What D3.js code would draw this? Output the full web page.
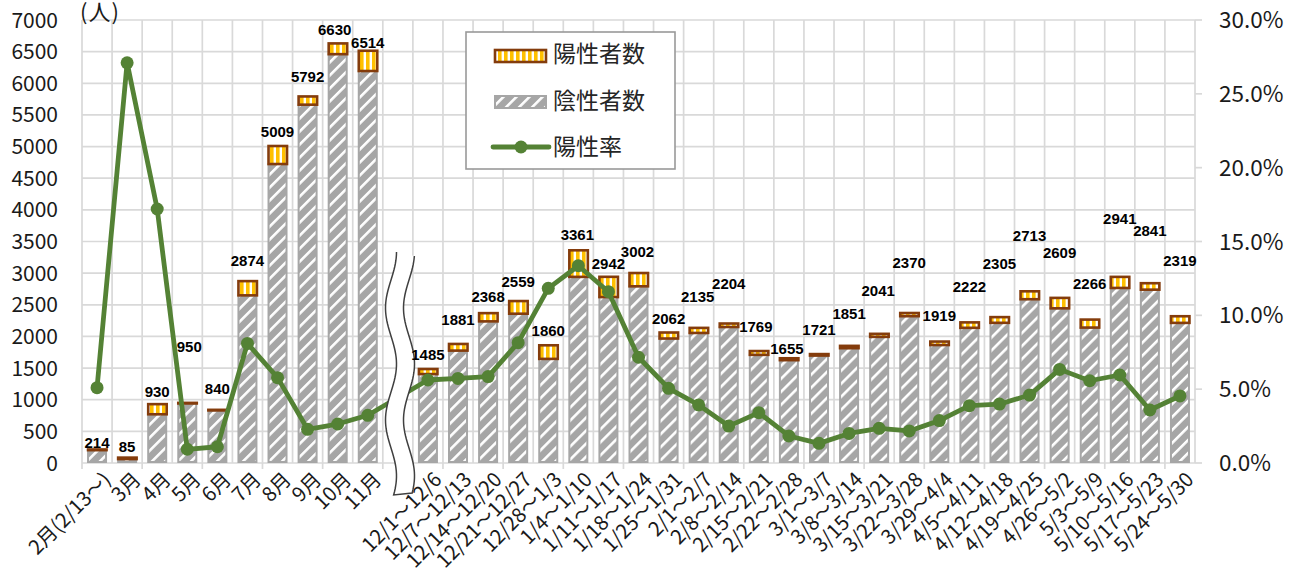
<!DOCTYPE html>
<html><head><meta charset="utf-8">
<script src="https://cdn.jsdelivr.net/npm/d3@7"></script>
<style>body{margin:0;background:#fff;overflow:hidden}</style>
</head><body><svg id="c" width="1300" height="568"></svg>
<script>
// ---------- data ----------
const categories = ["2月(2/13〜)","3月","4月","5月","6月","7月","8月","9月","10月","11月","",
  "12/1〜12/6","12/7〜12/13","12/14〜12/20","12/21〜12/27","12/28〜1/3","1/4〜1/10","1/11〜1/17","1/18〜1/24","1/25〜1/31",
  "2/1〜2/7","2/8〜2/14","2/15〜2/21","2/22〜2/28","3/1〜3/7","3/8〜3/14","3/15〜3/21","3/22〜3/28","3/29〜4/4",
  "4/5〜4/11","4/12〜4/18","4/19〜4/25","4/26〜5/2","5/3〜5/9","5/10〜5/16","5/17〜5/23","5/24〜5/30"];
const totals = [214,85,930,950,840,2874,5009,5792,6630,6514,null,
  1485,1881,2368,2559,1860,3361,2942,3002,2062,2135,2204,1769,1655,1721,1851,2041,2370,1919,2222,2305,2713,2609,2266,2941,2841,2319];
const positives = [11,23,160,9,9,225,285,130,170,320,null,
  80,105,130,200,215,420,320,210,95,80,55,60,30,23,37,48,50,55,86,90,125,165,126,175,102,105];
const negatives = [203,62,770,941,831,2649,4724,5662,6460,6194,null,
  1405,1776,2238,2359,1645,2941,2622,2792,1967,2055,2149,1709,1625,1698,1814,1993,2320,1864,2136,2215,2588,2444,2140,2766,2739,2214];
const positiveRate = [5.1,27.1,17.2,0.93,1.1,8.1,5.78,2.28,2.64,3.23,null,
  5.62,5.73,5.85,8.15,11.83,13.36,11.6,7.16,5.06,3.93,2.5,3.41,1.83,1.33,2.0,2.35,2.17,2.87,3.88,3.99,4.6,6.34,5.57,5.96,3.59,4.54];
const leftTicks = [0,500,1000,1500,2000,2500,3000,3500,4000,4500,5000,5500,6000,6500,7000];
const rightTicks = [0,5,10,15,20,25,30];
const seriesNames = ["陽性者数","陰性者数","陽性率"];
// manual label placement (distance above bar top, horizontal nudge), as in the original
const labelLift = [7,11,13,56,21,21,14,20,14,8,0,
  14,24,17,19,15,16,13,21,14,31,40,24,10,24,32,43,50,26,36,54,56,45,36,58,53,56];
const labelNudge = [0,0,0,2,0,0,0,0,-3,0,0,
  0,0,0,0,0,-1,0,-1,0,-1,0,-3,-2,0,0,-1,0,0,0,0,0,0,0,0,0,0];

// ---------- setup ----------
const svg = d3.select("#c");
const L = 82, R = 1195, T = 20, B = 463;
const x = d3.scaleBand().domain(d3.range(categories.length)).range([L, R]).padding(0);
const yL = d3.scaleLinear().domain([0, 7000]).range([B, T]);
const yR = d3.scaleLinear().domain([0, 30]).range([B, T]);
const cx = i => x(i) + x.bandwidth() / 2;
const gridC = "#d9d9d9", txtC = "#1a1a1a";
const green = "#548235", brown = "#843c0c", gold = "#ffc000", gray = "#a6a6a6";
const jp = "'Noto Sans CJK JP','Noto Sans',sans-serif";

const defs = svg.append("defs");
const hatch = defs.append("pattern").attr("id", "hatch").attr("patternUnits", "userSpaceOnUse")
  .attr("width", 9.2).attr("height", 9.2).attr("patternTransform", "rotate(45)");
hatch.append("rect").attr("width", 9.2).attr("height", 9.2).attr("fill", gray);
hatch.append("rect").attr("x", 0).attr("width", 2.6).attr("height", 9.2).attr("fill", "#fff");
const stripe = defs.append("pattern").attr("id", "stripe").attr("patternUnits", "userSpaceOnUse")
  .attr("width", 6).attr("height", 10);
stripe.append("rect").attr("width", 6).attr("height", 10).attr("fill", "#fff");
stripe.append("rect").attr("width", 3.6).attr("height", 10).attr("fill", gold);

// ---------- grid ----------
const g = svg.append("g");
g.selectAll("line.h").data(leftTicks).join("line")
  .attr("x1", L).attr("x2", R).attr("y1", d => yL(d)).attr("y2", d => yL(d))
  .attr("stroke", gridC).attr("stroke-width", 1.7);
g.selectAll("line.v").data(d3.range(categories.length + 1)).join("line")
  .attr("x1", i => i < categories.length ? x(i) : R).attr("x2", i => i < categories.length ? x(i) : R)
  .attr("y1", T).attr("y2", B).attr("stroke", gridC).attr("stroke-width", 1.7);
g.selectAll("line.xt").data(d3.range(0, categories.length + 1, 2)).join("line")
  .attr("x1", i => L + i * x.step()).attr("x2", i => L + i * x.step())
  .attr("y1", B).attr("y2", B + 6).attr("stroke", gridC).attr("stroke-width", 1.7);
g.selectAll("line.rt").data(rightTicks).join("line")
  .attr("x1", R).attr("x2", R + 7).attr("y1", d => yR(d)).attr("y2", d => yR(d))
  .attr("stroke", gridC).attr("stroke-width", 1.7);

// ---------- axes labels ----------
svg.append("g").selectAll("text").data(leftTicks).join("text")
  .attr("x", 58).attr("y", d => yL(d)).attr("dy", "0.36em").attr("text-anchor", "end")
  .attr("font-family", jp).attr("font-size", 21).attr("fill", txtC).text(d => d);
svg.append("g").selectAll("text").data(rightTicks).join("text")
  .attr("x", 1219).attr("y", d => yR(d)).attr("dy", "0.36em").attr("text-anchor", "start")
  .attr("font-family", jp).attr("font-size", 22.5).attr("fill", txtC).text(d => d3.format(".1f")(d) + "%");
svg.append("text").attr("x", 80).attr("y", 20).attr("font-family", jp).attr("font-size", 22)
  .attr("fill", txtC).attr("letter-spacing", 1).text("(人)");

svg.append("g").selectAll("text").data(categories).join("text")
  .attr("transform", (d, i) => `translate(${cx(i) + 10},${B + 13}) rotate(-45)`)
  .attr("text-anchor", "end").attr("dy", "0.35em")
  .attr("font-family", jp).attr("font-size", 20).attr("fill", txtC).text(d => d);

// ---------- bars ----------
const bw = 18;
const idx = d3.range(categories.length).filter(i => totals[i] != null);
svg.append("g").selectAll("rect").data(idx).join("rect")
  .attr("x", i => cx(i) - bw / 2).attr("width", bw)
  .attr("y", i => yL(negatives[i])).attr("height", i => yL(0) - yL(negatives[i]) - 1)
  .attr("fill", "url(#hatch)").attr("stroke", gray).attr("stroke-width", 2);
svg.append("g").selectAll("rect").data(idx).join("rect")
  .attr("x", i => cx(i) - bw / 2).attr("width", bw + 0.5)
  .attr("y", i => yL(negatives[i] + positives[i])).attr("height", i => yL(negatives[i]) - yL(negatives[i] + positives[i]))
  .attr("fill", "url(#stripe)").attr("stroke", brown).attr("stroke-width", 2.6);

// ---------- rate line ----------
const line = d3.line().x(i => cx(i)).y(i => yR(positiveRate[i]));
svg.append("path").datum(idx).attr("d", line).attr("fill", "none")
  .attr("stroke", green).attr("stroke-width", 4.8).attr("stroke-linejoin", "round");
svg.append("g").selectAll("circle").data(idx).join("circle")
  .attr("cx", i => cx(i)).attr("cy", i => yR(positiveRate[i])).attr("r", 6.5).attr("fill", green);

// ---------- break symbol ----------
const wave = (x0, y0, y1) => d3.range(y0, y1 + 0.1, 3).map(y => [x0 + 5.5 * Math.cos(2 * Math.PI * (y - 252) / 112), y]);
const left = wave(391, 252, 497), right = wave(409, 256, 494);
const band = left.concat(right.slice().reverse());
svg.append("path").attr("d", d3.line()(band) + "Z").attr("fill", "#fff").attr("stroke", "none");
svg.append("path").attr("d", d3.line()(left.concat([right[right.length - 1]]).concat(right.slice().reverse())))
  .attr("fill", "none").attr("stroke", "#404040").attr("stroke-width", 1.5);

// ---------- data labels ----------
svg.append("g").selectAll("text").data(idx).join("text")
  .attr("x", i => cx(i) + labelNudge[i]).attr("y", i => yL(totals[i]) - labelLift[i]).attr("dy", "0.36em")
  .attr("text-anchor", "middle").attr("font-family", "'Liberation Sans',Arial,sans-serif").attr("font-weight", "bold")
  .attr("font-size", 15).attr("fill", "#000").text(i => totals[i]);

// ---------- legend ----------
const lg = svg.append("g");
lg.append("rect").attr("x", 466).attr("y", 32).attr("width", 209).attr("height", 137)
  .attr("fill", "#fff").attr("stroke", "#999").attr("stroke-width", 1.6);
lg.append("rect").attr("x", 495).attr("y", 50).attr("width", 51).attr("height", 12)
  .attr("fill", "url(#stripe)").attr("stroke", brown).attr("stroke-width", 2.6);
lg.append("rect").attr("x", 495).attr("y", 96).attr("width", 51).attr("height", 12)
  .attr("fill", "url(#hatch)").attr("stroke", gray).attr("stroke-width", 2);
lg.append("line").attr("x1", 493).attr("x2", 549).attr("y1", 147).attr("y2", 147)
  .attr("stroke", green).attr("stroke-width", 4.8).attr("stroke-linecap", "round");
lg.append("circle").attr("cx", 521).attr("cy", 147).attr("r", 6.5).attr("fill", green);
lg.selectAll("text").data(seriesNames).join("text")
  .attr("x", 553).attr("y", (d, i) => [54, 101, 147][i]).attr("dy", "0.36em")
  .attr("font-family", jp).attr("font-size", 23).attr("fill", "#262626").text(d => d);
</script></body></html>
